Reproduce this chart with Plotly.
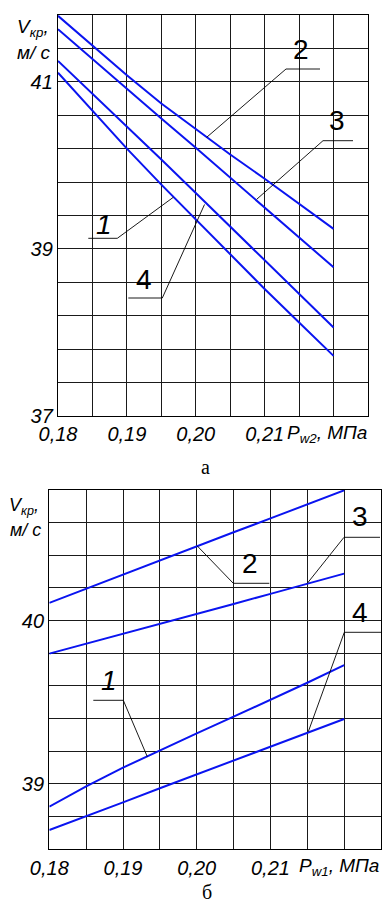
import plotly.graph_objects as go

W, H = 382, 907

# --- chart "а": critical velocity vs P_w2 ---
pw2 = [0.18, 0.185, 0.19, 0.195, 0.20, 0.205, 0.21, 0.215, 0.22]
va_2 = [41.79, 41.43, 41.08, 40.74, 40.43, 40.13, 39.84, 39.54, 39.24]
va_3 = [41.63, 41.27, 40.92, 40.56, 40.21, 39.85, 39.49, 39.14, 38.78]
va_4 = [41.25, 40.86, 40.46, 40.07, 39.67, 39.27, 38.86, 38.46, 38.06]
va_1 = [41.11, 40.65, 40.20, 39.77, 39.35, 38.93, 38.52, 38.12, 37.72]

# --- chart "б": critical velocity vs P_w1 ---
pw1 = [0.18, 0.185, 0.19, 0.195, 0.20, 0.205, 0.21, 0.215, 0.22]
vb_2 = [40.109, 40.196, 40.282, 40.369, 40.455, 40.541, 40.626, 40.712, 40.798]
vb_3 = [39.798, 39.858, 39.919, 39.980, 40.041, 40.102, 40.164, 40.226, 40.288]
vb_1 = [38.861, 38.985, 39.100, 39.206, 39.310, 39.412, 39.515, 39.620, 39.728]
vb_4 = [38.718, 38.801, 38.887, 38.974, 39.058, 39.143, 39.228, 39.313, 39.398]

x_ticks = [0.18, 0.19, 0.20, 0.21]
x_labels = ["0,18", "0,19", "0,20", "0,21"]
ya_ticks = [37, 39, 41]
yb_ticks = [39, 40]

FONT = "Liberation Sans Narrow, Arial Narrow, Liberation Sans, Arial, sans-serif"
BLUE = "#0a14f0"
GRID = "#1a1a1a"


def P(x, y):
    """pixel position -> paper coordinates"""
    return x / W, 1 - y / H


fig = go.Figure()

for ys in [va_2, va_3, va_4, va_1]:
    fig.add_trace(go.Scatter(x=pw2, y=ys, mode="lines", xaxis="x", yaxis="y",
                             line=dict(color=BLUE, width=2),
                             showlegend=False, hoverinfo="skip"))
for ys in [vb_2, vb_3, vb_1, vb_4]:
    fig.add_trace(go.Scatter(x=pw1, y=ys, mode="lines", xaxis="x2", yaxis="y2",
                             line=dict(color=BLUE, width=2),
                             showlegend=False, hoverinfo="skip"))

axis_common = dict(
    showline=True, mirror=True, linecolor="black", linewidth=1.4,
    showgrid=True, gridcolor=GRID, gridwidth=1.3, zeroline=False,
    automargin=False,
    ticks="", tickfont=dict(family=FONT, size=20, color="black", style="italic"),
)

fig.update_layout(
    width=W, height=H,
    margin=dict(l=0, r=0, t=0, b=0),
    paper_bgcolor="white", plot_bgcolor="white",
    xaxis=dict(axis_common, domain=[58 / W, 368 / W], range=[0.18, 0.225],
               tickvals=x_ticks, ticktext=x_labels, anchor="y",
               minor=dict(tick0=0.18, dtick=0.005, showgrid=True,
                          gridcolor=GRID, gridwidth=1.3)),
    yaxis=dict(axis_common, domain=[1 - 416 / H, 1 - 15 / H], range=[37, 41.8],
               tickvals=ya_ticks, anchor="x",
               minor=dict(tick0=37, dtick=0.4, showgrid=True,
                          gridcolor=GRID, gridwidth=1.3)),
    xaxis2=dict(axis_common, domain=[49.3 / W, 381 / W], range=[0.18, 0.225],
                tickvals=x_ticks, ticktext=x_labels, anchor="y2",
                minor=dict(tick0=0.18, dtick=0.005, showgrid=True,
                           gridcolor=GRID, gridwidth=1.3)),
    yaxis2=dict(axis_common, domain=[1 - 849.3 / H, 1 - 490 / H], range=[38.6, 40.8],
                tickvals=yb_ticks, anchor="x2",
                minor=dict(tick0=38.6, dtick=0.2, showgrid=True,
                           gridcolor=GRID, gridwidth=1.3)),
)

# leader lines (pixel positions)
leaders = [
    # chart а
    [(320, 69), (286, 69), (206.7, 137.3)],
    [(353, 140.7), (323, 140.7), (256.7, 199.3)],
    [(88.3, 238.3), (117.3, 238.3), (173.3, 197.3)],
    [(128.3, 298), (162.3, 298), (204.5, 204.5)],
    # chart б
    [(269.3, 583.3), (233.3, 583.3), (197.3, 546)],
    [(380, 537.3), (344, 537.3), (307.3, 583.3)],
    [(93.3, 700.3), (123.3, 700.3), (147.3, 756.7)],
    [(381, 632.3), (344.3, 632.3), (308.3, 731.7)],
]
for pts in leaders:
    for (x0, y0), (x1, y1) in zip(pts[:-1], pts[1:]):
        a, b = P(x0, y0)
        c, d = P(x1, y1)
        fig.add_shape(type="line", xref="paper", yref="paper",
                      x0=a, y0=b, x1=c, y1=d,
                      line=dict(color="black", width=0.9))


def note(text, x, y, size, anchor="center", style="normal", family=FONT):
    px, py = P(x, y)
    fig.add_annotation(x=px, y=py, xref="paper", yref="paper", text=text,
                       showarrow=False, xanchor=anchor, yanchor="middle",
                       font=dict(family=family, size=size, color="black", style=style))


# curve numbers
note("2", 301, 50, 28)
note("3", 337, 121, 28)
note("1", 104, 224, 28, style="italic")
note("4", 143.5, 279, 28)
note("2", 250, 563, 28)
note("3", 360, 516, 28)
note("4", 360, 612.5, 28)
note("1", 109, 680, 28, style="italic")

# axis titles
note("V<sub>кр</sub>,", 51, 28, 19, anchor="right", style="italic")
note("м/ с", 53, 52, 19, anchor="right", style="italic")
note("P<sub>w2</sub>, МПа", 369, 434, 19, anchor="right", style="italic")
note("V<sub>кр</sub>,", 41, 506, 18, anchor="right", style="italic")
note("м/ с", 43, 530, 18, anchor="right", style="italic")
note("P<sub>w1</sub>, МПа", 381, 867, 19, anchor="right", style="italic")

# captions
note("а", 206, 467, 20, family="Liberation Serif, Times New Roman, serif")
note("б", 206.5, 892, 20, family="Liberation Serif, Times New Roman, serif")

# page body has a default 8px margin; drop it so the figure fills the window
fig.write_html("out.html", config={"displayModeBar": False},
               post_script="document.body.style.margin='0';")
